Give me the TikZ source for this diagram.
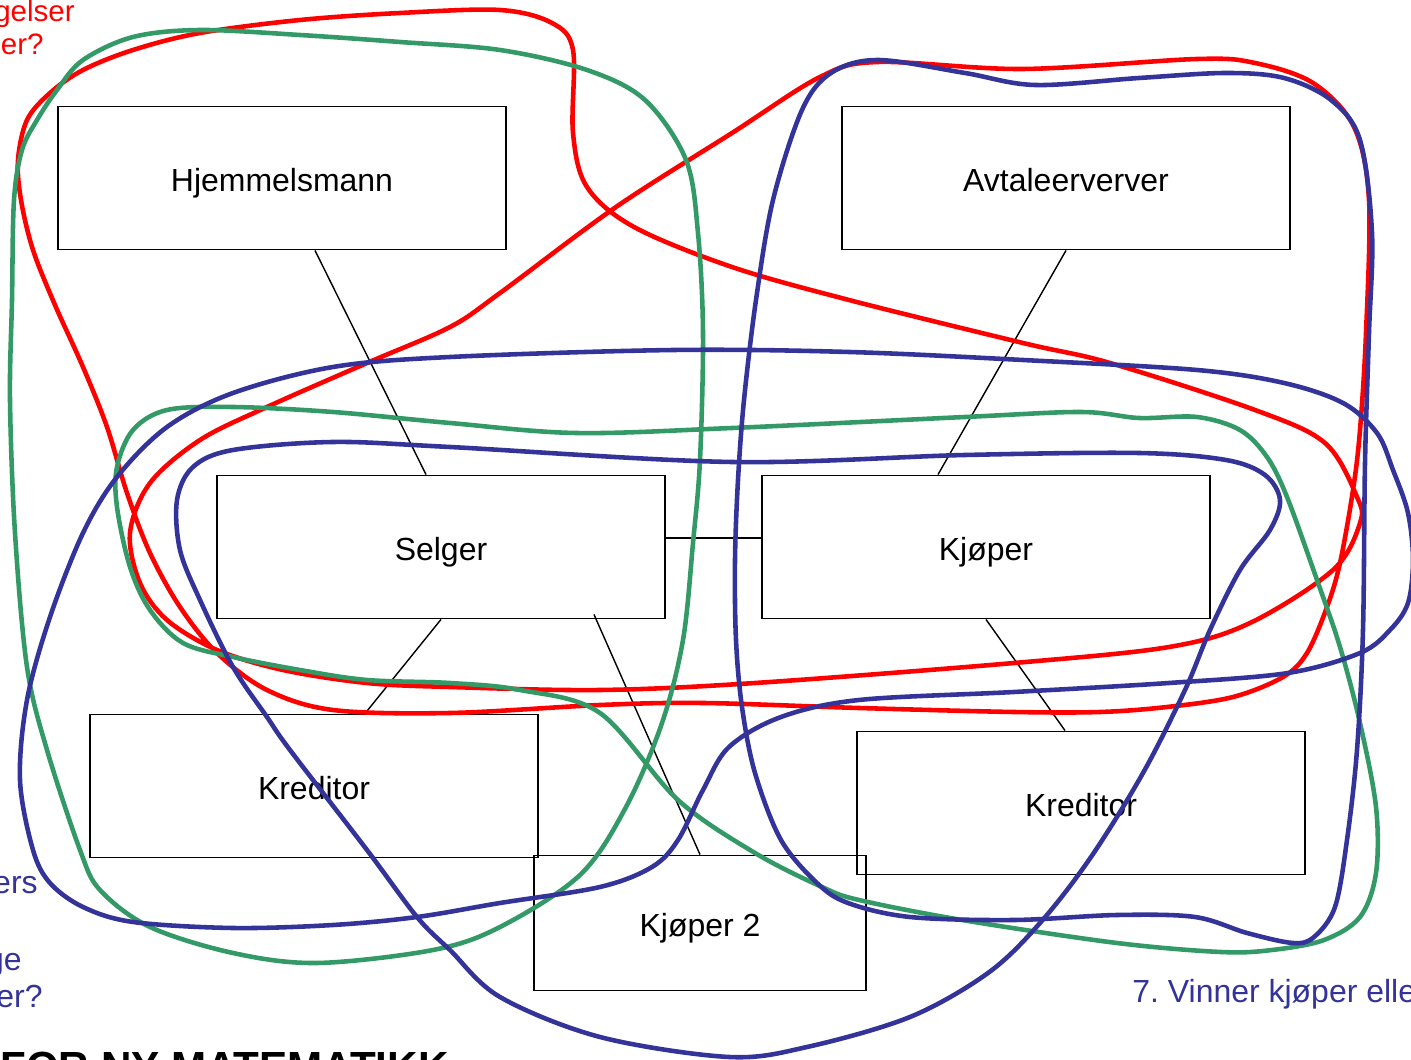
\documentclass[tikz,border=0pt]{standalone}
\usepackage{fontspec}
\setmainfont{Liberation Sans}
\definecolor{ringred}{RGB}{255,0,0}
\definecolor{ringgreen}{RGB}{51,153,102}
\definecolor{ringblue}{RGB}{51,51,153}
\frenchspacing
\begin{document}
\begin{tikzpicture}[x=0.02cm,y=-0.02cm,
	party/.style={draw, line width=1.1pt, minimum width=8.96cm, minimum height=2.86cm, inner sep=0pt, text height=17pt, text depth=1.7pt, font=\fontsize{18.2pt}{21pt}\selectfont},
	link/.style={line width=0.8pt},
	ring/.style={line width=2.6pt, line join=round},
	note/.style={inner sep=0pt, font=\fontsize{18.2pt}{21pt}\selectfont}]
		\useasboundingbox (0,0) rectangle (1411,1060);
		\clip (0,0) rectangle (1411,1060);
		\foreach \name/\x/\y/\txt in {hjem/282/178/Hjemmelsmann, avtale/1066/178/Avtaleerverver, selger/441/547/Selger, kjoper/986/547/Kjøper, kreditorA/314/786/Kreditor, kreditorB/1081/803/Kreditor}{
		\node[party] (\name) at (\x,\y) {\txt};
		};
		\node[party, minimum width=6.64cm, minimum height=2.7cm] (kjoper2) at (700,923) {Kjøper 2};

		\draw[link] ([xshift=0.66cm]hjem.south) -- ([xshift=-0.3cm]selger.north);
		\draw[link] (avtale.south) -- ([xshift=-0.96cm]kjoper.north);
		\draw[link] ([yshift=0.18cm]selger.east) -- ([yshift=0.18cm]kjoper.west);
		\draw[link] (selger.south) -- ([xshift=1.02cm]kreditorA.north);
		\draw[link] ([xshift=3.06cm,yshift=0.1cm]selger.south) -- (kjoper2.north);
		\draw[link] (kjoper.south) -- ([xshift=-0.32cm]kreditorB.north);

		\draw[ring, ringred] plot[smooth cycle, tension=0.55] coordinates {(18,160) (27,120) (50,93) (83,70) (133,50) (200,33) (300,20) (400,13) (500,10) (552,23) (573,50) (573,133) (587,187) (634,227) (732,267) (849,300) (1023,343) (1110,363) (1255,410) (1325,443) (1357,497) (1360,523) (1333,570) (1250,623) (1169,647) (1014,663) (755,683) (600,690) (450,687) (367,683) (283,670) (217,650) (167,620) (140,583) (130,533) (150,483) (200,440) (267,407) (367,363) (450,327) (500,293) (616,207) (732,133) (820,77) (878,62) (1023,69) (1197,59) (1255,63) (1313,83) (1354,127) (1369,200) (1366,333) (1360,430) (1353,490) (1340,563) (1327,607) (1307,653) (1283,677) (1233,697) (1167,707) (1100,712) (1014,712) (859,708) (703,703) (600,705) (450,713) (333,710) (267,690) (217,653) (180,607) (150,553) (127,493) (107,427) (83,367) (55,305) (33,250) (21,200)};
		\draw[ring, ringgreen] plot[smooth cycle, tension=0.55] coordinates {(37,120) (57,90) (83,60) (133,37) (200,30) (300,35) (400,42) (500,50) (587,70) (645,100) (686,160) (698,233) (703,333) (700,460) (693,543) (683,640) (662,723) (626,807) (580,875) (500,927) (433,950) (317,963) (233,953) (150,927) (100,890) (80,850) (47,750) (27,667) (15,533) (10,400) (12,300) (14,200) (22,150)};
		\draw[ring, ringgreen] plot[smooth cycle, tension=0.55] coordinates {(450,423) (576,433) (732,428) (965,417) (1081,412) (1139,418) (1197,417) (1240,430) (1267,457) (1287,497) (1317,580) (1340,647) (1360,723) (1376,807) (1376,873) (1360,917) (1324,940) (1272,950) (1221,952) (1117,943) (962,920) (859,900) (822,887) (755,853) (678,800) (600,713) (520,690) (450,683) (367,680) (300,670) (233,657) (183,643) (150,610) (130,567) (117,507) (117,467) (133,430) (167,410) (233,407) (333,412)};
		\draw[ring, ringblue] plot[smooth cycle, tension=0.55] coordinates {(450,357) (674,350) (849,352) (1023,360) (1197,370) (1284,383) (1343,403) (1377,433) (1393,470) (1408,513) (1413,560) (1408,603) (1390,630) (1360,653) (1288,673) (1169,683) (1014,692) (859,700) (781,717) (729,747) (703,790) (678,840) (652,867) (600,887) (500,903) (417,917) (333,925) (233,928) (133,922) (83,907) (50,883) (33,850) (20,780) (27,700) (50,617) (83,533) (117,477) (167,427) (233,393) (333,367)};
		\draw[ring, ringblue] plot[smooth cycle, tension=0.55] coordinates {(450,447) (732,462) (965,455) (1139,453) (1226,460) (1265,475) (1280,500) (1270,530) (1240,570) (1210,630) (1185,690) (1143,773) (1091,857) (1040,923) (988,973) (910,1017) (807,1047) (729,1057) (600,1037) (500,997) (450,950) (417,917) (367,850) (290,750) (267,717) (233,667) (200,600) (180,550) (177,500) (193,467) (233,450) (333,442)};
		\draw[ring, ringblue] plot[smooth cycle, tension=0.55] coordinates {(878,60) (965,73) (1035,85) (1139,78) (1226,73) (1284,78) (1331,100) (1360,140) (1372,233) (1369,333) (1365,463) (1363,630) (1357,750) (1347,840) (1335,907) (1314,937) (1293,943) (1247,933) (1195,917) (1117,915) (1014,920) (910,917) (848,903) (817,883) (781,840) (755,773) (742,707) (736,640) (735,560) (738,480) (744,400) (756,300) (773,200) (802,110) (831,73)};

		\node[note, ringred, anchor=base east, font=\fontsize{16.8pt}{20pt}\selectfont] (askA) at (75,22) {gelser};
		\node[note, ringred, anchor=base east, font=\fontsize{16.8pt}{20pt}\selectfont] (askB) at (44,55) {er?};
		\node[note, ringblue, anchor=base east] (askC) at (38,893) {ers};
		\node[note, ringblue, anchor=base east] (askD) at (22,970) {ge};
		\node[note, ringblue, anchor=base east] (askE) at (43,1008) {er?};
		\node[note, ringblue, anchor=base west] (winner) at (1132,1002) {7. Vinner kjøper elle};
		\node[inner sep=0pt, anchor=base west, font=\bfseries\fontsize{24pt}{28pt}\selectfont] (title) at (0,1081) {FOR NY MATEMATIKK};
	\end{tikzpicture}
\end{document}
